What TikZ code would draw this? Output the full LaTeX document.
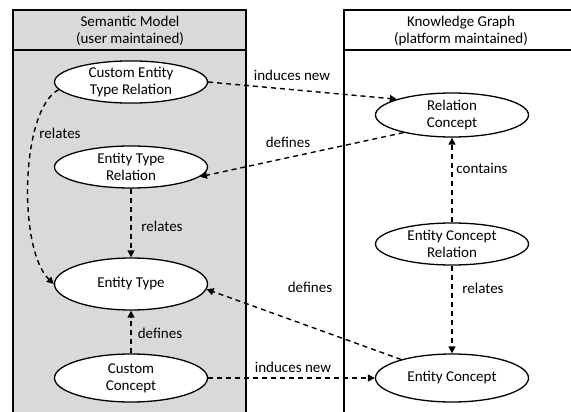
\documentclass[tikz,border=0pt]{standalone}
\usepackage{fontspec}
\setmainfont{Carlito}
\usetikzlibrary{shapes.geometric,arrows.meta}
\definecolor{panelgray}{RGB}{217,217,217}
\tikzset{
  ent/.style={draw=black, line width=1.3pt, ellipse, fill=white, minimum width=153pt, minimum height=42pt, inner sep=0pt, align=center, font=\fontsize{15}{17}\selectfont},
  conn/.style={line width=1.4pt, dash pattern=on 5pt off 4pt, -{Triangle[length=7pt,width=7pt]}},
  lbl/.style={font=\fontsize{15}{17}\selectfont, inner sep=0pt},
  hdr/.style={font=\fontsize{15}{17.5}\selectfont, inner sep=0pt, align=center},
  panel/.style={draw=black, line width=1.1pt}
}
\begin{document}
\begin{tikzpicture}[x=1pt,y=-1pt]
\useasboundingbox (0,0) rectangle (571,412);
% panels
\path[panel, fill=panelgray] (13,10) rectangle (246,420);
\draw[panel] (13,50) -- (246,50);
\path[panel, fill=white] (344,10) rectangle (580,420);
\draw[panel] (344,50) -- (580,50);
\node[hdr] (hl) at (130,31) {Semantic Model\\(user maintained)};
\node[hdr] (hr) at (461,31) {Knowledge Graph\\(platform maintained)};
% ellipses
\node[ent] (cetr) at (131,82) {Custom Entity\\Type Relation};
\node[ent] (etr) at (131,167) {Entity Type\\Relation};
\node[ent, minimum height=52pt] (et) at (131,284) {Entity Type};
\node[ent, minimum height=48pt] (cc) at (131,378) {Custom\\Concept};
\node[ent, minimum height=44pt] (rc) at (452,115) {Relation\\Concept};
\node[ent] (ecr) at (452,244) {Entity Concept\\Relation};
\node[ent, minimum height=48pt] (ec) at (452,378) {Entity Concept};
% connectors
\draw[conn] (cetr.east) -- (rc.164);
\draw[conn] (rc.200) -- (etr.-8);
\draw[conn] (cetr.186) .. controls (20,110) and (18,250) .. (et.west);
\draw[conn] (etr.south) -- (et.north);
\draw[conn] (cc.north) -- (et.south);
\draw[conn] (cc.east) -- (ec.west);
\draw[conn] (ecr.north) -- (rc.south);
\draw[conn] (ecr.south) -- (ec.north);
\draw[conn] (ec.160) -- (et.-4);
% labels
\node[lbl] (l1) at (292,75) {induces new};
\node[lbl] (l2) at (288,142) {defines};
\node[lbl] (l3) at (60,133) {relates};
\node[lbl] (l4) at (162,226) {relates};
\node[lbl] (l5) at (160,333) {defines};
\node[lbl] (l6) at (293,367) {induces new};
\node[lbl] (l7) at (310,287) {defines};
\node[lbl] (l8) at (482,168) {contains};
\node[lbl] (l9) at (483,288) {relates};
\end{tikzpicture}
\end{document}
